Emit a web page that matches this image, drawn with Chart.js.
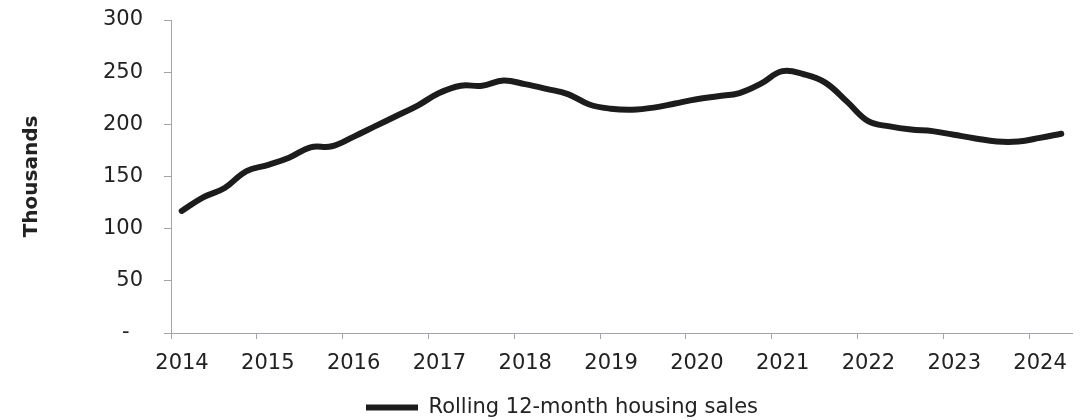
<!DOCTYPE html>
<html>
<head>
<meta charset="utf-8">
<script src="https://cdn.jsdelivr.net/npm/chart.js@4/dist/chart.umd.min.js"></script>
<style>
    html, body { margin: 0; padding: 0; background: #fff; }
    #wrap { width: 1089px; height: 420px; }
</style>
</head>
<body>
<div id="wrap"><canvas id="salesChart"></canvas></div>
<script>
// Quarterly points of the rolling 12-month series (year-month)
const periods = [
    '2014-02', '2014-05', '2014-08', '2014-11',
    '2015-02', '2015-05', '2015-08', '2015-11',
    '2016-02', '2016-05', '2016-08', '2016-11',
    '2017-02', '2017-05', '2017-08', '2017-11',
    '2018-02', '2018-05', '2018-08', '2018-11',
    '2019-02', '2019-05', '2019-08', '2019-11',
    '2020-02', '2020-05', '2020-08', '2020-11',
    '2021-02', '2021-05', '2021-08', '2021-11',
    '2022-02', '2022-05', '2022-08', '2022-11',
    '2023-02', '2023-05', '2023-08', '2023-11',
    '2024-02', '2024-05'
];

// Housing sales, thousands
const sales = [
    117, 130, 139, 155,
    161, 168, 178, 179,
    188, 198, 208, 218,
    230, 237, 237, 242,
    238.5, 234, 229, 219,
    215, 214, 216, 220,
    224, 227, 230, 239,
    251, 248, 240, 222,
    203, 198, 195, 193.5,
    190, 186.5, 183.5, 183.5,
    187, 191
];

const yearTicks = [2014, 2015, 2016, 2017, 2018, 2019, 2020, 2021, 2022, 2023, 2024];
const valueTicks = [0, 50, 100, 150, 200, 250, 300];

const seriesLabel = 'Rolling 12-month housing sales';
const axisTitle = 'Thousands';

const fontFamily = '"DejaVu Sans", Verdana, sans-serif';
const textColor = '#222222';
const axisColor = '#a3a3ab';

// Convert 'YYYY-MM' to a decimal year at the middle of the month
function toDecimalYear(period) {
    const [y, m] = period.split('-').map(Number);
    return y + (m - 0.5) / 12;
}

const points = periods.map((p, i) => ({ x: toDecimalYear(p), y: sales[i] }));

// Nudge the legend to where it sits in the original
const legendShift = {
    id: 'legendShift',
    afterLayout(chart) {
        const lg = chart.legend;
        if (!lg) return;
        lg.left += 26;
        lg.right += 26;
        lg.top += 8;
        lg.bottom += 8;
    }
};

const ctx = document.getElementById('salesChart').getContext('2d');
new Chart(ctx, {
    type: 'line',
    data: {
        datasets: [{
            label: seriesLabel,
            data: points,
            borderColor: '#1c1c1c',
            backgroundColor: '#1c1c1c',
            borderWidth: 6,
            borderCapStyle: 'round',
            borderJoinStyle: 'round',
            pointRadius: 0,
            pointHoverRadius: 0,
            tension: 0.4,
            fill: false
        }]
    },
    options: {
        responsive: true,
        maintainAspectRatio: false,
        animation: false,
        events: [],
        layout: {
            padding: { left: 0, right: 17, top: 20, bottom: 0 }
        },
        scales: {
            x: {
                type: 'linear',
                min: 2014,
                max: 2024.5,
                afterBuildTicks: scale => {
                    scale.ticks = yearTicks.map(v => ({ value: v }));
                },
                afterFit: scale => { scale.height = 46; },
                grid: {
                    drawOnChartArea: false,
                    drawTicks: true,
                    tickLength: 6,
                    color: axisColor
                },
                border: { display: true, color: axisColor, width: 1 },
                ticks: {
                    callback: v => String(v),
                    autoSkip: false,
                    maxRotation: 0,
                    labelOffset: 11,
                    padding: 12,
                    color: textColor,
                    font: { family: fontFamily, size: 21 }
                }
            },
            y: {
                min: 0,
                max: 300,
                afterBuildTicks: scale => {
                    scale.ticks = valueTicks.map(v => ({ value: v }));
                },
                afterFit: scale => {
                    scale.width = 171;
                    // keep the big label gap from pushing the plot down
                    scale.paddingTop = 12;
                    scale.paddingBottom = 12;
                },
                grid: {
                    drawOnChartArea: false,
                    drawTicks: true,
                    tickLength: 7,
                    color: axisColor
                },
                border: { display: true, color: axisColor, width: 1 },
                ticks: {
                    callback: v => (v === 0 ? '-  ' : String(v)),
                    padding: 21,
                    color: textColor,
                    font: { family: fontFamily, size: 21 }
                },
                title: {
                    display: true,
                    text: axisTitle,
                    color: textColor,
                    padding: { top: 20, bottom: 4 },
                    font: { family: fontFamily, size: 20, weight: 'bold' }
                }
            }
        },
        plugins: {
            legend: {
                display: true,
                position: 'bottom',
                labels: {
                    usePointStyle: true,
                    pointStyle: 'line',
                    pointStyleWidth: 52,
                    boxHeight: 6,
                    padding: 10,
                    color: textColor,
                    font: { family: fontFamily, size: 21 }
                }
            },
            tooltip: { enabled: false }
        }
    },
    plugins: [legendShift]
});
</script>
</body>
</html>
